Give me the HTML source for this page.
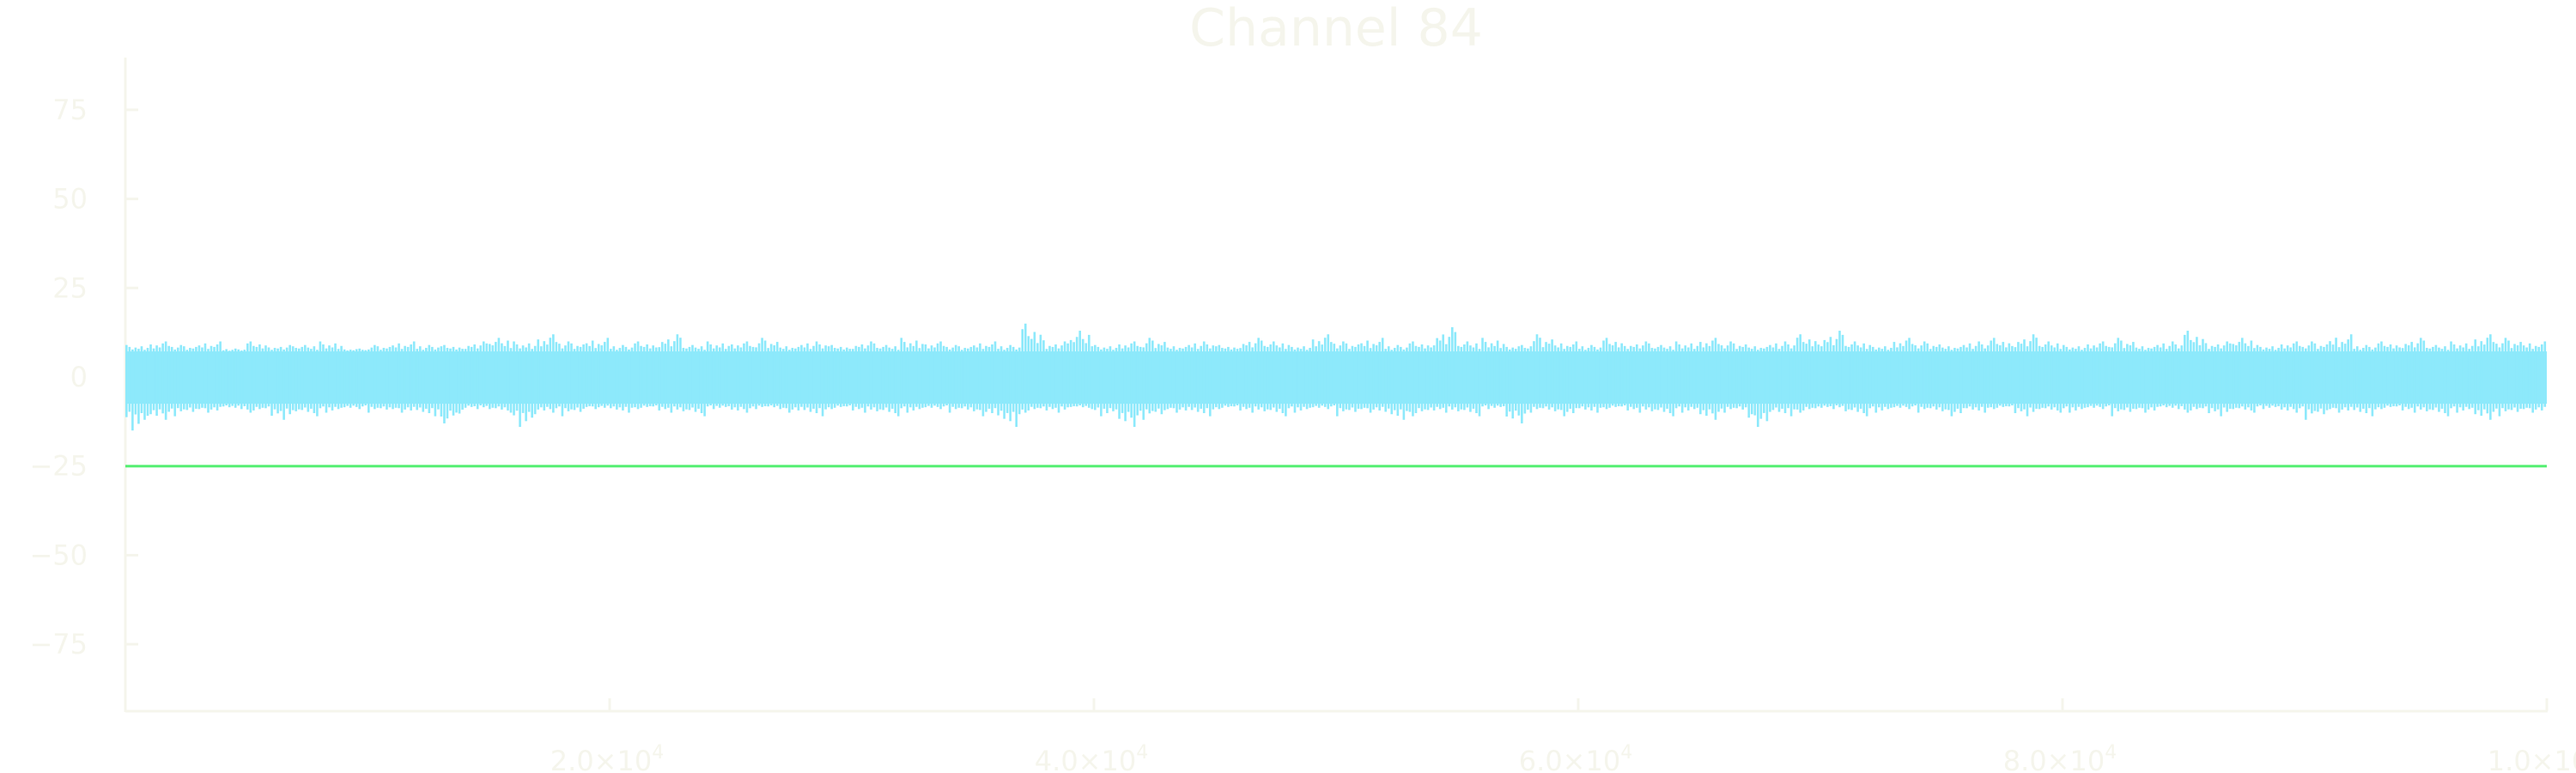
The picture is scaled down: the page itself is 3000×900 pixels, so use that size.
<!DOCTYPE html>
<html><head><meta charset="utf-8"><style>
html,body{margin:0;padding:0;background:#fff;}
svg{display:block;font-family:"DejaVu Sans","Liberation Sans",sans-serif;}
</style></head><body>
<svg id="chart" width="3000" height="900" viewBox="0 0 3000 900">
<text x="1556" y="53" font-size="60" fill="#f5f5ec" text-anchor="middle">Channel 84</text>
<g id="axes"></g>
<g id="series"></g>
</svg>
<script>
const xTicks=[20000,40000,60000,80000,100000];
const xTickLabels=["2.0","4.0","6.0","8.0","1.0"];
const xTickExp=["4","4","4","4","5"];
const yTicks=[75,50,25,0,-25,-50,-75];
const yTickLabels=["75","50","25","0","\u221225","\u221250","\u221275"];
const threshold=[-25];
// envelope per bin (1000 samples each)
const binMax=[9,10,9,10,8,10,9,9,10,8,9,10,9,9,10,11,10,12,10,11,9,10,12,9,10,10,11,9,10,9,10,9,11,10,9,10,9,15,10,13,9,10,11,9,10,9,11,10,9,12,10,11,9,10,14,10,11,9,12,10,9,11,10,9,10,11,10,9,10,12,13,10,9,11,10,9,10,11,12,10,9,10,11,9,10,13,10,11,9,10,10,12,9,10,11,9,10,12,11,10];
const binMin=[-15,-12,-11,-10,-9,-10,-12,-11,-10,-9,-10,-10,-11,-13,-9,-10,-14,-10,-11,-9,-10,-9,-10,-11,-9,-10,-9,-10,-11,-9,-10,-11,-10,-9,-10,-11,-14,-10,-10,-9,-11,-14,-12,-10,-11,-9,-10,-11,-10,-9,-11,-10,-12,-11,-10,-11,-9,-13,-10,-11,-10,-9,-10,-11,-10,-12,-10,-14,-11,-10,-9,-11,-10,-9,-10,-11,-10,-9,-11,-10,-10,-9,-11,-10,-9,-10,-11,-10,-9,-10,-12,-10,-11,-9,-10,-11,-10,-12,-11,-10];
const coreHi=7.2, coreLo=-7.5;
const ns="http://www.w3.org/2000/svg";
const X0=146,X1=2966,Y0=439,PX25=103.7;
const xs=v=>X0+(v/100000)*(X1-X0);
const ys=v=>Y0-v/25*PX25;
function mk(tag,attrs,parent){const e=document.createElementNS(ns,tag);for(const k in attrs)e.setAttribute(k,attrs[k]);parent.appendChild(e);return e;}
const axes=document.getElementById('axes'),ser=document.getElementById('series');
const ac="#f5f5ec";
let a=mk('line',{x1:X0,y1:67,x2:X0,y2:829,stroke:ac,'stroke-width':3},axes);


a=mk('line',{x1:X0,y1:828,x2:X1+1,y2:828,stroke:ac,'stroke-width':3},axes);


yTicks.forEach((v,i)=>{
 const t=mk('line',{x1:X0,y1:ys(v),x2:X0+15,y2:ys(v),stroke:ac,'stroke-width':3},axes);
 
 
 const l=mk('text',{x:102,y:ys(v)+11,'font-size':32,fill:ac,'text-anchor':'end'},axes);
 l.textContent=yTickLabels[i];
 
 
});
xTicks.forEach((v,i)=>{
 const t=mk('line',{x1:xs(v),y1:828,x2:xs(v),y2:813,stroke:ac,'stroke-width':3},axes);
 
 
 const l=mk('text',{x:xs(v)-3,y:897,'font-size':32,fill:ac,'text-anchor':'middle'},axes);
 l.textContent=xTickLabels[i]+"\u00d710";
 const s=mk('tspan',{dy:-14,'font-size':22},l);
 s.textContent=xTickExp[i];
 
 
});
const bw=(X1-X0)/binMax.length;
const cyan="#8de9fb";
let core=mk('rect',{x:X0,y:ys(coreHi),width:X1-X0,height:ys(coreLo)-ys(coreHi),fill:cyan},ser);


const hiPat=[0.45,0.7,0.3,0.6,0.4,0.8,0.25,0.55];
const loPat=[0.5,0.3,0.65,0.4,0.75,0.35,0.6,0.45];
const SUB=8;
binMax.forEach((mx,i)=>{
 const x=xs(i*1000);
 const peakH=(i*5)%SUB, peakL=(i*3+2)%SUB;
 for(let k=0;k<SUB;k++){
  const fh=k===peakH?1:hiPat[(k+i)%SUB];
  const fl=k===peakL?1:loPat[(k+2*i)%SUB];
  const hi=coreHi+(mx-coreHi)*fh, lo=coreLo+(binMin[i]-coreLo)*fl;
  const b=mk('rect',{x:x+k*bw/SUB,y:ys(hi),width:bw/SUB*0.75,height:ys(lo)-ys(hi),fill:cyan},ser);
  
  
 }
});
const g=mk('line',{x1:X0,y1:ys(threshold[0]),x2:X1,y2:ys(threshold[0]),stroke:"#55ef72",'stroke-width':3},ser);


</script>
</body></html>
